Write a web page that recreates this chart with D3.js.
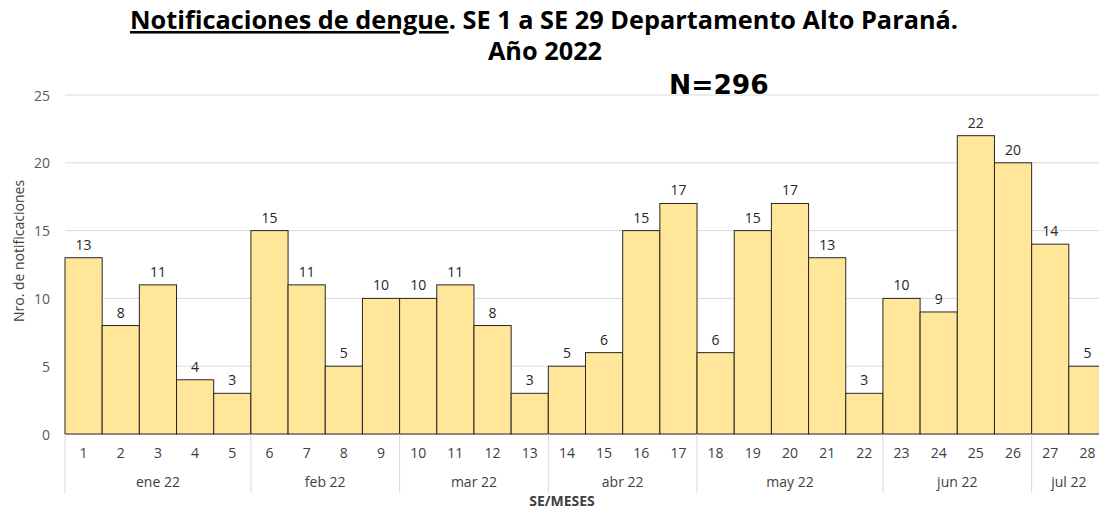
<!DOCTYPE html>
<html>
<head>
<meta charset="utf-8">
<script src="https://cdn.jsdelivr.net/npm/d3@7"></script>
<style>
  body { margin: 0; background: #fff; }
  svg { display: block; font-family: "Open Sans", "Noto Sans", sans-serif; }
</style>
</head>
<body>
<svg id="chart" width="1099" height="510"></svg>
<script>
// data
const weeks = ["1","2","3","4","5","6","7","8","9","10","11","12","13","14","15","16","17","18","19","20","21","22","23","24","25","26","27","28"];
const counts = [13, 8, 11, 4, 3, 15, 11, 5, 10, 10, 11, 8, 3, 5, 6, 15, 17, 6, 15, 17, 13, 3, 10, 9, 22, 20, 14, 5];
const months = ["ene 22", "feb 22", "mar 22", "abr 22", "may 22", "jun 22", "jul 22"];
const monthWeeks = [5, 4, 4, 4, 5, 4, 2];
const yTicks = [0, 5, 10, 15, 20, 25];

const svg = d3.select("#chart");
const plotL = 65, plotR = 1106, plotT = 95, plotB = 434;

const x = d3.scaleBand().domain(weeks).range([plotL, plotR]).padding(0);
const y = d3.scaleLinear().domain([0, 25]).range([plotB, plotT]);

// grid
svg.append("g").selectAll("line").data(yTicks).join("line")
  .attr("x1", plotL).attr("x2", plotR)
  .attr("y1", d => y(d)).attr("y2", d => y(d))
  .attr("stroke", "#d9d9d9").attr("stroke-width", 1);

// y tick labels
svg.append("g").selectAll("text").data(yTicks).join("text")
  .attr("x", 50).attr("y", d => y(d))
  .attr("text-anchor", "end").attr("dominant-baseline", "central")
  .style("font-size", "14px").style("fill", "#595959")
  .text(d => d);

// bars
svg.append("g").selectAll("rect").data(counts).join("rect")
  .attr("x", (d, i) => x(weeks[i]))
  .attr("y", d => y(d))
  .attr("width", x.bandwidth())
  .attr("height", d => y(0) - y(d))
  .attr("fill", "#ffe699")
  .attr("stroke", "#262626").attr("stroke-width", 1);

// value labels
svg.append("g").selectAll("text").data(counts).join("text")
  .attr("x", (d, i) => x(weeks[i]) + x.bandwidth() / 2)
  .attr("y", d => y(d) - 8)
  .attr("text-anchor", "middle")
  .style("font-size", "14px").style("fill", "#262626")
  .text(d => d);

// week labels
svg.append("g").selectAll("text").data(weeks).join("text")
  .attr("x", d => x(d) + x.bandwidth() / 2)
  .attr("y", 458)
  .attr("text-anchor", "middle")
  .style("font-size", "14px").style("fill", "#404040")
  .text(d => d);

// month groups
let start = 0;
const monthPos = months.map((m, i) => {
  const s = start;
  start += monthWeeks[i];
  return { label: m, s: s, e: start };
});

const sepIdx = [0].concat(monthPos.map(d => d.e).filter(e => e < weeks.length));
svg.append("g").selectAll("line").data(sepIdx).join("line")
  .attr("x1", d => x(weeks[d])).attr("x2", d => x(weeks[d]))
  .attr("y1", plotB).attr("y2", 493)
  .attr("stroke", "#d9d9d9").attr("stroke-width", 1);

svg.append("g").selectAll("text").data(monthPos).join("text")
  .attr("x", d => (x(weeks[d.s]) + x(weeks[d.e - 1]) + x.bandwidth()) / 2)
  .attr("y", 487)
  .attr("text-anchor", "middle")
  .style("font-size", "14px").style("fill", "#404040")
  .text(d => d.label);

// axis titles
svg.append("text")
  .attr("x", 562).attr("y", 506)
  .attr("text-anchor", "middle")
  .style("font-size", "14px").style("font-weight", "bold").style("fill", "#404040")
  .text("SE/MESES");

svg.append("text")
  .attr("transform", "translate(24,251) rotate(-90)")
  .attr("text-anchor", "middle")
  .style("font-size", "14px").style("fill", "#404040")
  .text("Nro. de notificaciones");

// title
const t1 = svg.append("text")
  .attr("x", 544).attr("y", 29)
  .attr("text-anchor", "middle")
  .style("font-size", "25.3px").style("font-weight", "bold").style("fill", "#000");
t1.append("tspan").style("text-decoration", "underline").text("Notificaciones de dengue");
t1.append("tspan").text(". SE 1 a SE 29 Departamento Alto Paraná.");

svg.append("text")
  .attr("x", 545).attr("y", 60)
  .attr("text-anchor", "middle")
  .style("font-size", "25.3px").style("font-weight", "bold").style("fill", "#000")
  .text("Año 2022");

svg.append("text")
  .attr("x", 669).attr("y", 94)
  .style("font-family", "DejaVu Sans")
  .style("font-size", "26.5px").style("font-weight", "bold").style("fill", "#000")
  .text("N=296");
</script>
</body>
</html>
